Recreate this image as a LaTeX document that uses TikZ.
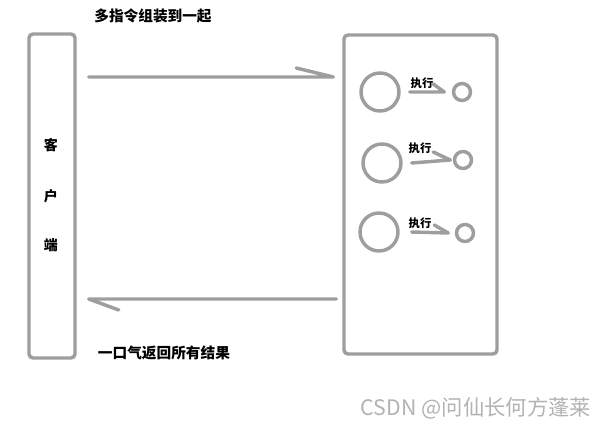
\documentclass[tikz,border=0pt]{standalone}
\usepackage{fontspec}
\usepackage{tikz}
\usetikzlibrary{calc}
\newfontfamily\cjk{Noto Sans CJK SC}

\begin{document}
\begin{tikzpicture}[x=0.75pt,y=0.75pt,yscale=-1,xscale=1,
  sketch/.style={draw=black!38, line width=2.6pt, line cap=round, line join=round},
  box/.style={sketch, rounded corners=3pt, inner sep=0pt},
  ring/.style={sketch, circle, inner sep=0pt},
  caption/.style={inner sep=0.75pt, font=\cjk\bfseries\fontsize{11pt}{13pt}\selectfont},
  side/.style={inner sep=0.75pt, font=\cjk\bfseries\fontsize{10.5pt}{12pt}\selectfont},
  run/.style={inner sep=0.75pt, font=\cjk\bfseries\fontsize{8.5pt}{10pt}\selectfont}]
\useasboundingbox (0,0) rectangle (594,427);

%Rectangles
\node [box, minimum width=34.5pt, minimum height=243pt] (client) at (52,196) {};
\node [box, minimum width=114.75pt, minimum height=239.25pt] (server) at (420.5,194.5) {};

% Text Node
\node [side] (ke) at (51,145) {客};
\node [side] (hu) at (51,196) {户};
\node [side] (duan) at (51,245) {端};

%Straight Lines
\coordinate (send) at (0,77);
\coordinate (reply) at (0,299);
\draw [sketch] ($(client.east |- send)+(12,0)$) -- ($(server.west |- send)+(-9,0)$) -- ++(-37,-9);
\draw [sketch] ($(server.west |- reply)+(-6,0)$) -- ($(client.east |- reply)+(12,0)$) -- ++(30,11);

% Text Node
\node [caption] (pack) at (153,16) {多指令组装到一起};
\node [caption] (back) at (164,353) {一口气返回所有结果};

%Circles and arrows
\foreach \bx/\by/\sx/\sy/\lx/\ly/\s/\e/\bw [count=\i] in
  {380/92/462/92/422/83/9/7.5/11, 382/163/463/160/420/148/9/2.5/17, 379/232/465/233/420/223/12/6.5/14}{
  \node [ring, minimum size=28.5pt] (cmd\i) at (\bx,\by) {};
  \node [ring, minimum size=12.75pt] (res\i) at (\sx,\sy) {};
  \node [run] (exec\i) at (\lx,\ly) {执行};
  \draw [sketch] ($(cmd\i.east)+(\s,0)$) -- ($(res\i.west)+(-\e,0)$) -- ++(-\bw,-8);
}

% Text Node
\node [inner sep=0.75pt, text=black!30, font=\cjk\fontsize{16pt}{18pt}\selectfont] (mark) at (476,408) {CSDN @问仙长何方蓬莱};

\end{tikzpicture}
\end{document}
